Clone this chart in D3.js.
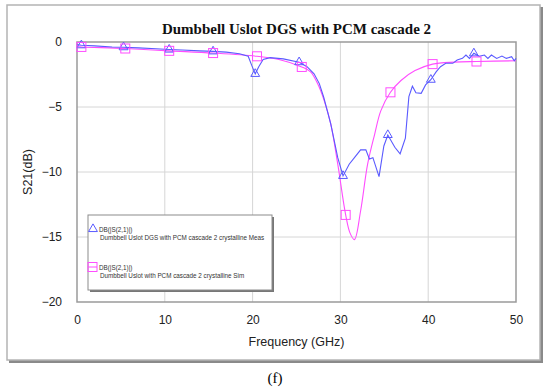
<!DOCTYPE html>
<html>
<head>
<meta charset="utf-8">
<script src="https://cdn.jsdelivr.net/npm/d3@7"></script>
<style>
  body { margin: 0; background: #fff; }
  svg { display: block; }
</style>
</head>
<body>
<svg class="main" width="550" height="391"></svg>
<script>
// measured curve (blue, triangles)
var measX = [0, 0.5, 2, 4, 5.3, 7, 9, 10.5, 12, 14, 15.5, 17, 18.5, 19.5, 19.9, 20.3, 20.7, 21.2, 22, 23.5, 25.3,
  26.2, 27, 27.6, 28.1, 28.9, 29.7, 30.3, 31, 31.6, 32.3, 32.9, 33.3, 33.7, 34.4, 34.95, 35.4, 36.2, 36.8, 37.4, 37.8,
  38.2, 38.6, 39.2, 39.7, 40.3, 40.9, 41.4, 42.0, 42.8, 43.3, 43.9, 44.3, 44.7, 45.2, 45.8, 46.4, 46.8, 47.2, 47.8,
  48.4, 48.9, 49.5, 49.8, 50]
var measY = [-0.2, -0.25, -0.3, -0.38, -0.4, -0.45, -0.52, -0.58, -0.62, -0.68, -0.72, -0.78, -0.9, -1.1, -1.8, -2.45, -1.9, -1.35, -1.2, -1.3, -1.55,
  -1.9, -2.45, -3.2, -4.25, -6.3, -8.9, -10.3, -9.4, -8.9, -8.3, -8.3, -9.0, -8.9, -10.35, -8.0, -7.15, -8.1, -8.6, -7.4, -4.2,
  -3.4, -3.9, -3.95, -3.3, -2.9, -2.3, -1.9, -1.64, -1.64, -1.38, -1.26, -1.0, -1.26, -0.87, -1.1, -1.0, -1.26, -1.0, -1.26,
  -1.08, -1.26, -1.13, -1.44, -1.26]
var measMarkX = [0.5, 5.3, 10.5, 15.5, 20.3, 25.3, 30.3, 35.4, 40.3, 45.2]
var measMarkY = [-0.25, -0.4, -0.58, -0.72, -2.45, -1.55, -10.3, -7.15, -2.9, -0.87]

// simulated curve (magenta, squares)
var simX = [0, 0.5, 5.5, 10.5, 15.5, 20.5, 23, 25.6, 26.6, 27.4, 28.2, 28.9, 29.7, 30.6, 31.1, 31.6, 32.3, 33.1, 33.9,
  34.6, 35.7, 36.9, 38.5, 40.5, 43, 45.5, 50]
var simY = [-0.35, -0.38, -0.5, -0.68, -0.85, -1.1, -1.35, -1.92, -2.3, -3.2, -4.6, -6.3, -9.4, -13.3, -14.7, -15.2, -13.0, -9.4, -7.1,
  -5.3, -3.87, -2.96, -2.2, -1.7, -1.55, -1.5, -1.44]
var simMarkX = [0.5, 5.5, 10.5, 15.5, 20.5, 25.6, 30.6, 35.7, 40.5, 45.5]
var simMarkY = [-0.38, -0.5, -0.68, -0.85, -1.1, -1.92, -13.3, -3.87, -1.7, -1.5]

var xTicks = [0, 10, 20, 30, 40, 50]
var yTicks = [0, -5, -10, -15, -20]

var title = 'Dumbbell Uslot DGS with PCM cascade 2'
var legendItems = [
  {name: 'DB(|S(2,1)|)', desc: 'Dumbbell Uslot DGS with PCM cascade 2 crystalline Meas', color: '#5a5aff', shape: 'tri'},
  {name: 'DB(|S(2,1)|)', desc: 'Dumbbell Uslot with PCM cascade 2 crystalline Sim', color: '#ff4dff', shape: 'sq'}
]

var svg = d3.select('svg.main')
var margin = {top: 42, left: 77, right: 34, bottom: 89}
var width = 550 - margin.left - margin.right
var height = 391 - margin.top - margin.bottom

// outer frame with shadow
svg.append('rect').attr('x', 9).attr('y', 7).attr('width', 534).attr('height', 356).attr('fill', '#8a8a8a')
svg.append('rect').attr('x', 7).attr('y', 5).attr('width', 533).attr('height', 355)
  .attr('fill', '#fff').attr('stroke', '#b4b4b4').attr('stroke-width', 1.5)

svg.append('text').attr('x', 275).attr('y', 383).attr('text-anchor', 'middle')
  .attr('font-family', 'Liberation Serif, Times New Roman, serif').attr('font-size', 15).text('(f)')

var body = svg.append('g').attr('transform', `translate(${margin.left}, ${margin.top})`)

var xScale = d3.scaleLinear().domain([0, 50]).range([0, width])
var yScale = d3.scaleLinear().domain([-20, 0]).range([height, 0])

// grid
body.append('g').selectAll('line.gx').data(xTicks.slice(1, -1)).join('line')
  .attr('x1', d => xScale(d)).attr('x2', d => xScale(d)).attr('y1', 0).attr('y2', height)
  .attr('stroke', '#d6d6d6').attr('stroke-width', 1)
body.append('g').selectAll('line.gy').data(yTicks.slice(1, -1)).join('line')
  .attr('y1', d => yScale(d)).attr('y2', d => yScale(d)).attr('x1', 0).attr('x2', width)
  .attr('stroke', '#d6d6d6').attr('stroke-width', 1)

// axes (labels only, frame drawn separately)
var xAxis = body.append('g').attr('transform', `translate(0, ${height})`)
  .call(d3.axisBottom(xScale).tickValues(xTicks).tickSize(0).tickPadding(13))
var yAxis = body.append('g')
  .call(d3.axisLeft(yScale).tickValues(yTicks).tickSize(0).tickPadding(15))
;[xAxis, yAxis].forEach(a => {
  a.select('.domain').remove()
  a.selectAll('text').attr('font-family', 'Liberation Sans, Arial, sans-serif').attr('font-size', 12).attr('fill', '#222')
})

// plot frame
body.append('rect').attr('x', 0).attr('y', 0).attr('width', width).attr('height', height)
  .attr('fill', 'none').attr('stroke', '#9a9a9a').attr('stroke-width', 1.5)

body.append('text').attr('x', width / 2).attr('y', -8).attr('text-anchor', 'middle')
  .attr('font-family', 'Liberation Serif, Times New Roman, serif').attr('font-weight', 'bold')
  .attr('font-size', 15).attr('fill', '#111').text(title)

body.append('text').attr('x', width / 2).attr('y', height + 44).attr('text-anchor', 'middle')
  .attr('font-family', 'Liberation Sans, Arial, sans-serif').attr('font-size', 12.5).attr('fill', '#222')
  .text('Frequency (GHz)')
body.append('text').attr('transform', `translate(${28 - margin.left}, ${height / 2}) rotate(-90)`)
  .attr('text-anchor', 'middle').attr('dy', '0.35em')
  .attr('font-family', 'Liberation Sans, Arial, sans-serif').attr('font-size', 12.5).attr('fill', '#222')
  .text('S21(dB)')

// lines
var line = d3.line().x(d => xScale(d[0])).y(d => yScale(d[1]))
body.append('path').datum(simX.map((x, i) => [x, simY[i]]))
  .attr('d', line.curve(d3.curveCatmullRom)).attr('fill', 'none')
  .attr('stroke', legendItems[1].color).attr('stroke-width', 1.1)
body.append('path').datum(measX.map((x, i) => [x, measY[i]]))
  .attr('d', line.curve(d3.curveLinear)).attr('fill', 'none')
  .attr('stroke', legendItems[0].color).attr('stroke-width', 1.1)

// markers
var tri = d3.symbol().type(d3.symbolTriangle).size(34)
body.append('g').selectAll('path').data(measMarkX).join('path')
  .attr('transform', (d, i) => `translate(${xScale(d)}, ${yScale(measMarkY[i])})`)
  .attr('d', tri).attr('fill', 'none').attr('stroke', legendItems[0].color).attr('stroke-width', 1)
body.append('g').selectAll('rect').data(simMarkX).join('rect')
  .attr('x', d => xScale(d) - 4.5).attr('y', (d, i) => yScale(simMarkY[i]) - 4.5)
  .attr('width', 9).attr('height', 9).attr('fill', 'none')
  .attr('stroke', legendItems[1].color).attr('stroke-width', 1)

// legend
var lg = svg.append('g').attr('transform', 'translate(88, 215)')
lg.append('rect').attr('x', 2).attr('y', 2).attr('width', 184).attr('height', 75).attr('fill', '#777')
lg.append('rect').attr('x', 0).attr('y', 0).attr('width', 184).attr('height', 75)
  .attr('fill', '#fff').attr('stroke', '#8c8c8c').attr('stroke-width', 1)
legendItems.forEach((item, i) => {
  var g = lg.append('g').attr('transform', `translate(0, ${14 + i * 38})`)
  if (item.shape == 'tri') {
    g.append('path').attr('transform', 'translate(5, 0)').attr('d', tri)
      .attr('fill', 'none').attr('stroke', item.color)
  } else {
    g.append('rect').attr('x', 0).attr('y', -4.5).attr('width', 9).attr('height', 9)
      .attr('fill', 'none').attr('stroke', item.color)
    g.append('line').attr('x1', 0).attr('x2', 9).attr('y1', 0).attr('y2', 0).attr('stroke', item.color)
  }
  g.append('text').attr('x', 11).attr('y', 2.5).text(item.name)
  g.append('text').attr('x', 12).attr('y', 11).text(item.desc)
  g.selectAll('text').attr('font-family', 'Liberation Sans, Arial, sans-serif').attr('font-size', 6.3).attr('fill', '#333')
})
</script>
</body>
</html>
